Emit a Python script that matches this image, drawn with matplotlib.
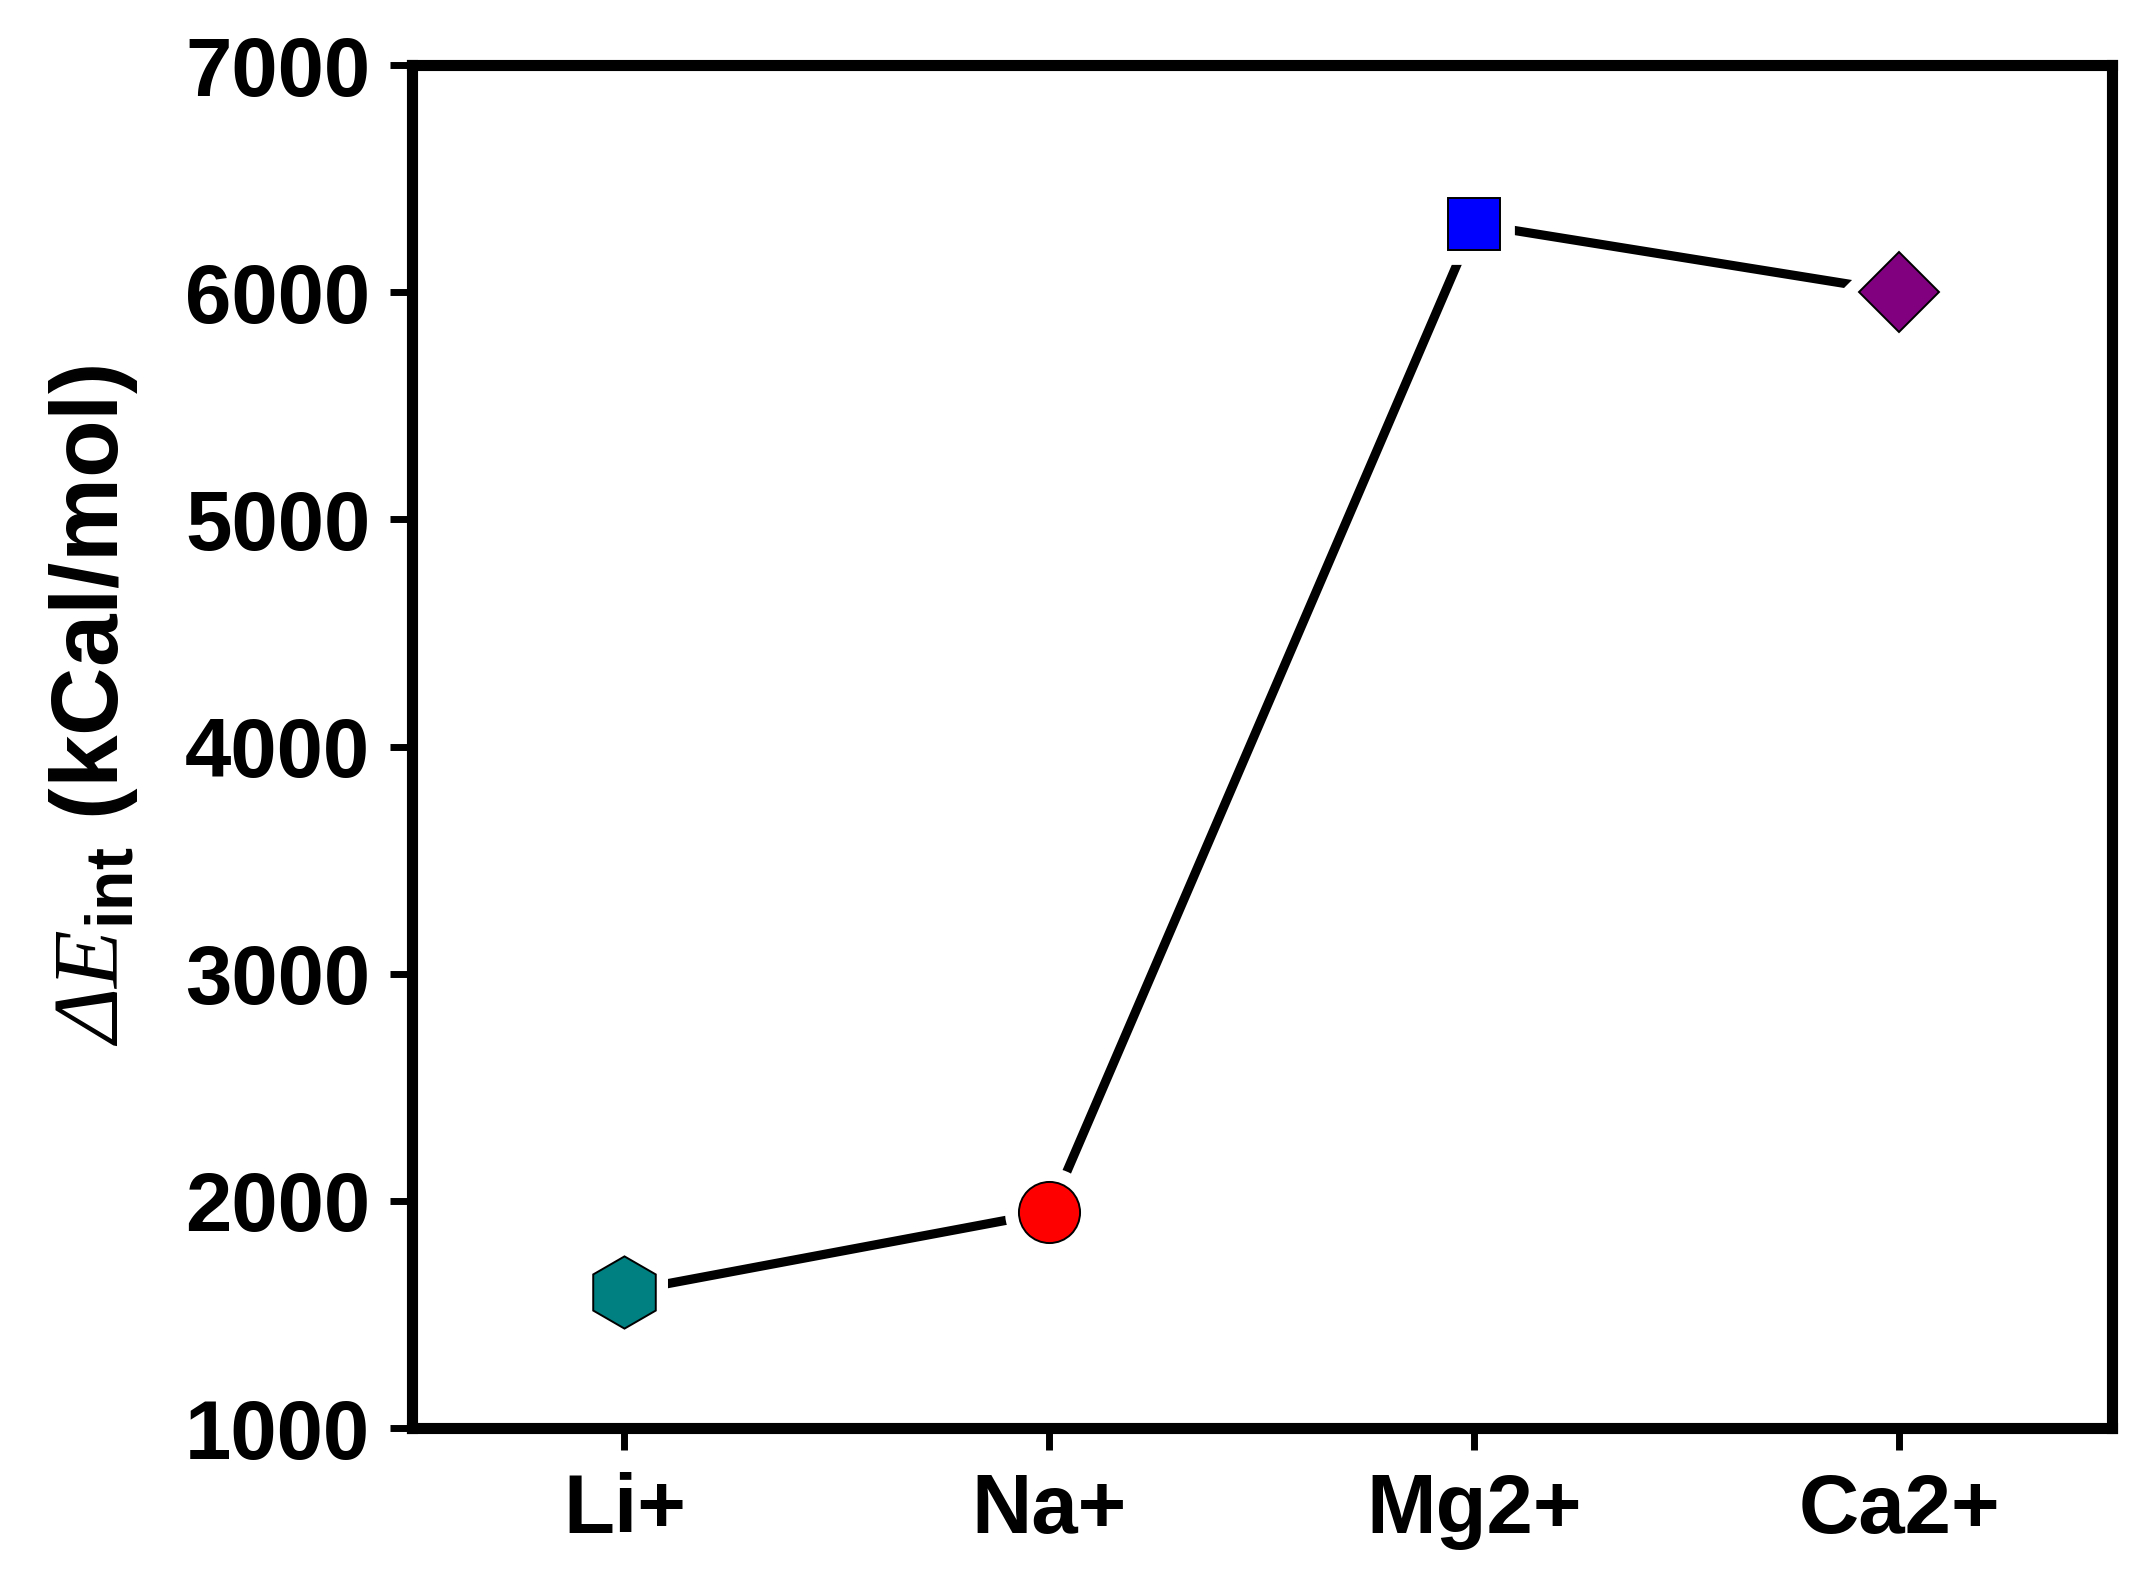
import matplotlib
matplotlib.use('Agg')
import matplotlib.pyplot as plt
import numpy as np

ions = ['Li+', 'Na+', 'Mg2+', 'Ca2+']
e_int = [1600, 1950, 6300, 6000]

# marker style per point
markers = ['h', 'o', 's', 'D']
colors = ['#008080', '#ff0000', '#0000ff', '#800080']
sizes = [26, 22, 19, 20.5]

plt.rcParams['font.family'] = ['Liberation Sans', 'DejaVu Sans']
plt.rcParams['font.weight'] = 'bold'
plt.rcParams['mathtext.fontset'] = 'custom'
plt.rcParams['mathtext.rm'] = 'Liberation Serif:style=italic:weight=normal'
plt.rcParams['mathtext.sf'] = 'Liberation Sans:weight=bold'

fig = plt.figure(figsize=(10.73, 7.93), dpi=200)
ax = fig.add_axes([0.192, 0.0996, 0.792, 0.8594])

x = np.arange(len(ions))
ax.plot(x, e_int, color='black', lw=3.3, zorder=2, solid_capstyle='round')
for i in range(len(x)):
    # white halo leaves a gap between line and marker
    ax.plot(x[i], e_int[i], marker=markers[i], ms=sizes[i] + 9, color='white',
            mec='white', ls='none', zorder=3)
    ax.plot(x[i], e_int[i], marker=markers[i], ms=sizes[i], color=colors[i],
            mec='black', mew=0.7, ls='none', zorder=4)

ax.set_xlim(-0.5, 3.5)
ax.set_ylim(1000, 7000)
ax.set_xticks(x)
ax.set_xticklabels(ions)
ax.set_yticks(np.arange(1000, 7001, 1000))

for s in ax.spines.values():
    s.set_linewidth(4)
ax.tick_params(axis='both', direction='out', length=8, width=2.5,
               labelsize=30, pad=7)
ax.tick_params(axis='x', pad=8)
for lab in ax.get_xticklabels() + ax.get_yticklabels():
    lab.set_fontweight('bold')

ax.set_ylabel(r'$\mathrm{\Delta E}_{\mathsf{int}}$ (kCal/mol)', fontsize=34,
              fontweight='bold')
ax.yaxis.set_label_coords(-0.16, 0.53)

plt.savefig('out.png', dpi=200)
